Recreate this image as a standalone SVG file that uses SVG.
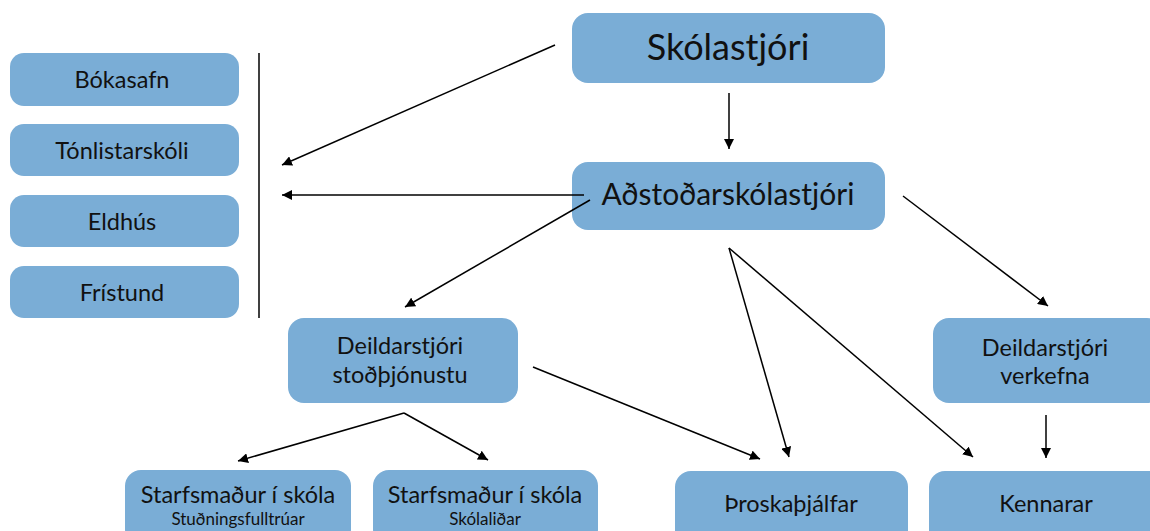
<svg xmlns="http://www.w3.org/2000/svg" width="1150" height="531" viewBox="0 0 1150 531">
<defs>
<marker id="ah" viewBox="0 0 10 10" refX="10" refY="5" markerWidth="10" markerHeight="10" markerUnits="userSpaceOnUse" orient="auto">
<path d="M0,0 L10,5 L0,10 z" fill="#000"/>
</marker>
<style>
.box{fill:#7aadd6;}
.t{font-family:Lato,"Noto Sans",sans-serif;fill:#111;text-anchor:middle;}
.m{font-size:23.5px;}
.c{stroke:#000;stroke-width:1.5;fill:none;marker-end:url(#ah);}
</style>
</defs>
<rect width="1150" height="531" fill="#fff"/>
<g id="skolastjori"><rect class="box" x="572" y="13" width="313" height="70" rx="16"/><text class="t" x="728" y="60" font-size="36">Skólastjóri</text></g>
<g id="adstodar"><rect class="box" x="572" y="162" width="313" height="68" rx="16"/><text class="t" x="728" y="205" font-size="30">Aðstoðarskólastjóri</text></g>
<g id="bokasafn"><rect class="box" x="10" y="53" width="229" height="53" rx="14"/><text class="t m" x="122" y="88">Bókasafn</text></g>
<g id="tonlistarskoli"><rect class="box" x="10" y="124" width="229" height="52" rx="14"/><text class="t m" x="122" y="159">Tónlistarskóli</text></g>
<g id="eldhus"><rect class="box" x="10" y="195" width="229" height="52" rx="14"/><text class="t m" x="122" y="230">Eldhús</text></g>
<g id="fristund"><rect class="box" x="10" y="266" width="229" height="52" rx="14"/><text class="t m" x="122" y="301">Frístund</text></g>
<g id="deild-stod"><rect class="box" x="288" y="318" width="230" height="85" rx="16"/><text class="t m" x="400" y="354">Deildarstjóri</text><text class="t m" x="400" y="383">stoðþjónustu</text></g>
<g id="deild-verk"><rect class="box" x="933" y="318" width="230" height="85" rx="16"/><text class="t m" x="1045" y="356">Deildarstjóri</text><text class="t m" x="1045" y="384">verkefna</text></g>
<g id="starf1"><rect class="box" x="125" y="470" width="226" height="75" rx="16"/><text class="t m" x="238" y="503">Starfsmaður í skóla</text><text class="t" x="238" y="525" font-size="17">Stuðningsfulltrúar</text></g>
<g id="starf2"><rect class="box" x="373" y="470" width="225" height="75" rx="16"/><text class="t m" x="485" y="503">Starfsmaður í skóla</text><text class="t" x="485" y="525" font-size="17">Skólaliðar</text></g>
<g id="throska"><rect class="box" x="675" y="471" width="233" height="75" rx="16"/><text class="t m" x="791" y="512">Þroskaþjálfar</text></g>
<g id="kennarar"><rect class="box" x="929" y="471" width="235" height="75" rx="16"/><text class="t m" x="1046" y="512">Kennarar</text></g>
<g id="connectors">
<line x1="259" y1="53" x2="259" y2="318" stroke="#000" stroke-width="1.5"/>
<line class="c" x1="729" y1="93" x2="729" y2="149"/>
<line class="c" x1="555" y1="45" x2="282" y2="165"/>
<line class="c" x1="584" y1="195" x2="282" y2="195"/>
<line class="c" x1="590" y1="200" x2="405" y2="307"/>
<line class="c" x1="533" y1="367" x2="760" y2="459"/>
<line class="c" x1="729" y1="248" x2="789" y2="457"/>
<line class="c" x1="729" y1="248" x2="973" y2="457"/>
<line class="c" x1="903" y1="196" x2="1048" y2="306"/>
<line class="c" x1="1046" y1="415" x2="1046" y2="458"/>
<line class="c" x1="404" y1="413" x2="238" y2="461"/>
<line class="c" x1="404" y1="413" x2="488" y2="460"/>
</g>
</svg>
